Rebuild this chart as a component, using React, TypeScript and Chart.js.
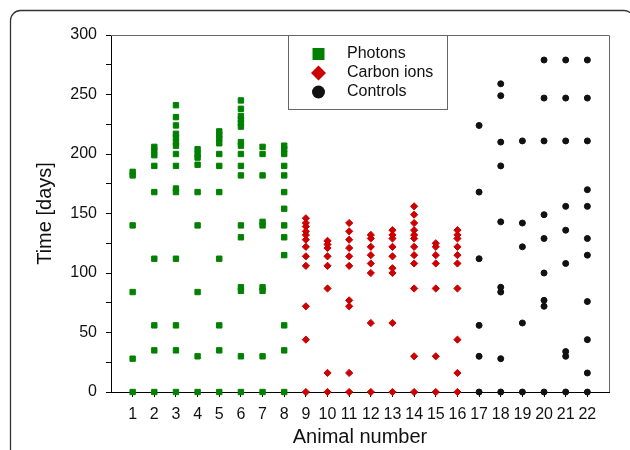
import React, { useEffect, useRef } from "react";
import { Chart, registerables } from "chart.js";

Chart.register(...registerables);

// ---- Data ----
const animalNumbers = [1, 2, 3, 4, 5, 6, 7, 8, 9, 10, 11, 12, 13, 14, 15, 16, 17, 18, 19, 20, 21, 22];
const yLabelValues = [0, 50, 100, 150, 200, 250, 300];

const photonAnimals = [1, 2, 3, 4, 5, 6, 7, 8];
const photonTimes = [
  [0, 28, 84, 140, 182, 185],
  [0, 35, 56, 112, 168, 190, 199, 203, 206],
  [0, 35, 56, 112, 168, 171, 190, 200, 207, 210, 214, 217, 224, 231, 241],
  [0, 30, 84, 140, 168, 191, 197, 200, 204],
  [0, 35, 56, 112, 168, 190, 200, 209, 213, 216, 219],
  [0, 30, 85, 88, 130, 140, 182, 190, 200, 207, 210, 223, 226, 229, 232, 238, 245],
  [0, 30, 85, 88, 140, 143, 182, 200, 206],
  [0, 35, 56, 115, 130, 140, 154, 168, 182, 190, 200, 204, 207],
];

const carbonAnimals = [9, 10, 11, 12, 13, 14, 15, 16];
const carbonTimes = [
  [0, 44, 72, 106, 114, 122, 128, 132, 135, 139, 142, 146],
  [0, 16, 87, 106, 114, 121, 124, 127],
  [0, 16, 72, 77, 106, 114, 121, 128, 135, 142],
  [0, 58, 100, 108, 115, 122, 129, 132],
  [0, 58, 100, 104, 114, 122, 129, 132, 136],
  [0, 30, 87, 108, 115, 122, 129, 132, 136, 142, 149, 156],
  [0, 30, 87, 108, 115, 122, 125],
  [0, 16, 44, 87, 108, 115, 122, 129, 132, 136],
];

const controlAnimals = [17, 18, 19, 20, 21, 22];
const controlTimes = [
  [0, 30, 56, 112, 168, 224],
  [0, 28, 84, 88, 143, 190, 210, 249, 259],
  [0, 58, 122, 142, 211],
  [0, 72, 77, 100, 129, 149, 211, 247, 279],
  [0, 30, 34, 108, 136, 156, 211, 247, 279],
  [0, 16, 44, 76, 115, 129, 156, 170, 211, 247, 279],
];

const seriesLabels = ["Photons", "Carbon ions", "Controls"];
const seriesColors = ["#008000", "#cc0000", "#111111"];

function toPoints(animals: number[], times: number[][]) {
  const pts: { x: number; y: number }[] = [];
  animals.forEach((a, i) => times[i].forEach((t) => pts.push({ x: a, y: t })));
  return pts;
}

const FONT = "'Liberation Sans', Arial, sans-serif";

const decorPlugin = {
  id: "decor",
  beforeDraw(chart: any) {
    const ctx = chart.ctx as CanvasRenderingContext2D;
    ctx.save();
    ctx.fillStyle = "#ffffff";
    ctx.fillRect(0, 0, chart.width, chart.height);
    // outer rounded frame
    const x0 = 10.5, y0 = 10.5, x1 = 634, y1 = 500, r = 10;
    ctx.strokeStyle = "#333333";
    ctx.lineWidth = 1.3;
    ctx.beginPath();
    ctx.moveTo(x0 + r, y0);
    ctx.arcTo(x1, y0, x1, y1, r);
    ctx.arcTo(x1, y1, x0, y1, r);
    ctx.arcTo(x0, y1, x0, y0, r);
    ctx.arcTo(x0, y0, x1, y0, r);
    ctx.closePath();
    ctx.stroke();
    ctx.restore();
  },
  afterDraw(chart: any) {
    const ctx = chart.ctx as CanvasRenderingContext2D;
    const { left, top, right, bottom } = chart.chartArea;
    ctx.save();
    // top and right frame of plot
    ctx.strokeStyle = "#666666";
    ctx.lineWidth = 1;
    ctx.beginPath();
    ctx.moveTo(left, Math.round(top) + 0.5);
    ctx.lineTo(Math.round(right) + 0.5, Math.round(top) + 0.5);
    ctx.lineTo(Math.round(right) + 0.5, bottom);
    ctx.stroke();

    // legend box
    const lx0 = 288.5, lx1 = 447.5, ly0 = Math.round(top) + 0.5, ly1 = 109.5;
    ctx.fillStyle = "#ffffff";
    ctx.fillRect(lx0, ly0, lx1 - lx0, ly1 - ly0);
    ctx.strokeStyle = "#666666";
    ctx.strokeRect(lx0, ly0, lx1 - lx0, ly1 - ly0);

    const rows = [54, 73, 92];
    const mx = 318.5;
    chart.data.datasets.forEach((ds: any, i: number) => {
      const y = rows[i];
      ctx.fillStyle = ds.backgroundColor;
      ctx.beginPath();
      if (ds.pointStyle === "rect") {
        ctx.rect(mx - 6, y - 6, 12, 12);
      } else if (ds.pointStyle === "rectRot") {
        ctx.moveTo(mx, y - 7.5);
        ctx.lineTo(mx + 7.5, y);
        ctx.lineTo(mx, y + 7.5);
        ctx.lineTo(mx - 7.5, y);
        ctx.closePath();
      } else {
        ctx.arc(mx, y, 6.5, 0, Math.PI * 2);
      }
      ctx.fill();
      ctx.fillStyle = "#111111";
      ctx.font = `16px ${FONT}`;
      ctx.textBaseline = "middle";
      ctx.textAlign = "left";
      ctx.fillText(ds.label, 347, y);
    });
    ctx.restore();
  },
};

export default function App() {
  const canvasRef = useRef<HTMLCanvasElement | null>(null);

  useEffect(() => {
    if (!canvasRef.current) return;
    const chart = new Chart(canvasRef.current, {
      type: "scatter",
      data: {
        datasets: [
          {
            label: seriesLabels[0],
            data: toPoints(photonAnimals, photonTimes),
            pointStyle: "rect",
            backgroundColor: seriesColors[0],
            borderColor: seriesColors[0],
            borderWidth: 1,
            pointRadius: 3.8,
            clip: false,
          } as any,
          {
            label: seriesLabels[1],
            data: toPoints(carbonAnimals, carbonTimes),
            pointStyle: "rectRot",
            backgroundColor: seriesColors[1],
            borderColor: seriesColors[1],
            borderWidth: 1,
            pointRadius: 3.6,
            clip: false,
          } as any,
          {
            label: seriesLabels[2],
            data: toPoints(controlAnimals, controlTimes),
            pointStyle: "circle",
            backgroundColor: seriesColors[2],
            borderColor: seriesColors[2],
            borderWidth: 1,
            pointRadius: 3,
            clip: false,
          } as any,
        ],
      },
      options: {
        responsive: false,
        animation: false,
        devicePixelRatio: 1,
        layout: { padding: { left: 10, top: 35, right: 21, bottom: 0 } },
        plugins: {
          legend: { display: false },
          tooltip: { enabled: false },
        },
        scales: {
          x: {
            type: "linear",
            min: 0,
            max: 23,
            afterFit: (s: any) => {
              s.height = 58;
            },
            ticks: {
              stepSize: 1,
              autoSkip: false,
              maxRotation: 0,
              padding: 8,
              color: "#111111",
              font: { family: FONT, size: 16 },
              callback: (v: any) => (animalNumbers.includes(v) ? String(v) : null),
            },
            grid: { drawOnChartArea: false, tickLength: 5, tickColor: "#000000" },
            border: { color: "#000000", width: 1 },
            title: {
              display: true,
              text: "Animal number",
              color: "#111111",
              font: { family: FONT, size: 20 },
              padding: { top: 0, bottom: 1 },
            },
          },
          y: {
            type: "linear",
            min: 0,
            max: 300,
            afterFit: (s: any) => {
              s.width = 101;
            },
            ticks: {
              stepSize: 25,
              padding: 9,
              color: "#111111",
              font: { family: FONT, size: 16 },
              callback: (v: any) => (yLabelValues.includes(v) ? String(v) : ""),
            },
            grid: { drawOnChartArea: false, tickLength: 5, tickColor: "#000000" },
            border: { color: "#000000", width: 1 },
            title: {
              display: true,
              text: "Time [days]",
              color: "#111111",
              font: { family: FONT, size: 20 },
              padding: { top: 23, bottom: 0 },
            },
          },
        },
      } as any,
      plugins: [decorPlugin],
    });
    return () => chart.destroy();
  }, []);

  return (
    <div style={{ position: "absolute", left: 0, top: 0, width: 630, height: 450 }}>
      <canvas ref={canvasRef} width={630} height={450} style={{ display: "block", width: 630, height: 450 }} />
    </div>
  );
}
